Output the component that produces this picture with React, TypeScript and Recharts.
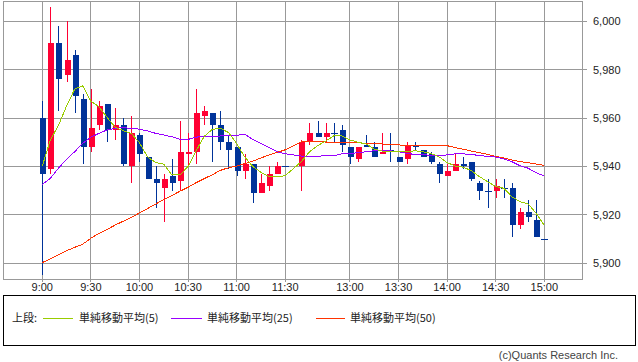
import React from 'react';
import { ComposedChart, Bar, Line, XAxis, YAxis, CartesianGrid, ReferenceArea } from 'recharts';

// x-axis tick labels and their slot positions (5-minute slots, lunch break compressed)
const timeLabels = ['9:00', '9:30', '10:00', '10:30', '11:00', '11:30', '13:00', '13:30', '14:00', '14:30', '15:00'];
const tickSlots = [0, 6, 12, 18, 24, 30, 38, 44, 50, 56, 62];
const yTicks = [5900, 5920, 5940, 5960, 5980, 6000];

// candle slots: morning 9:00-11:30 (0..30), afternoon 12:30-15:00 (32..62)
const slots = [
  0, 1, 2, 3, 4, 5, 6, 7, 8, 9, 10, 11, 12, 13, 14, 15, 16, 17, 18, 19, 20, 21, 22, 23, 24, 25, 26, 27, 28, 29, 30,
  32, 33, 34, 35, 36, 37, 38, 39, 40, 41, 42, 43, 44, 45, 46, 47, 48, 49, 50, 51, 52, 53, 54, 55, 56, 57, 58, 59, 60, 61, 62,
];

const opens = [
  5960, 5939, 5991, 5978, 5986, 5968, 5948, 5957, 5966, 5955, 5957, 5940, 5953, 5944, 5935, 5931, 5936, 5934, 5945, 5946, 5961, 5962, 5957, 5950, 5948, 5938, 5941, 5929, 5932, 5937, 5940,
  5940, 5950, 5954, 5952, 5954, 5955, 5948, 5943, 5949, 5948, 5945, 5947, 5944, 5943, 5949, 5947, 5945, 5941, 5936, 5938, 5941, 5942, 5933, 5930, 5930, 5931, 5931, 5916, 5921, 5918, 5910,
];
const highs = [
  5967, 6006, 5998, 6000, 5988, 5970, 5972, 5967, 5966, 5964, 5960, 5961, 5954, 5944, 5940, 5937, 5943, 5959, 5954, 5972, 5965, 5962, 5963, 5953, 5948, 5945, 5941, 5937, 5940, 5942, 5940,
  5951, 5958, 5959, 5958, 5958, 5957, 5948, 5948, 5953, 5950, 5954, 5954, 5944, 5950, 5950, 5947, 5946, 5942, 5941, 5945, 5944, 5942, 5934, 5935, 5935, 5935, 5933, 5923, 5926, 5926, 5910,
];
const lows = [
  5895, 5937, 5963, 5975, 5962, 5941, 5946, 5955, 5950, 5951, 5940, 5933, 5942, 5935, 5923, 5917, 5930, 5930, 5940, 5941, 5957, 5942, 5947, 5939, 5936, 5935, 5925, 5929, 5930, 5937, 5940,
  5930, 5949, 5952, 5950, 5950, 5946, 5941, 5942, 5948, 5944, 5945, 5942, 5942, 5941, 5947, 5944, 5941, 5933, 5936, 5938, 5939, 5934, 5926, 5923, 5927, 5927, 5911, 5914, 5917, 5911, 5910,
];
const closes = [
  5937, 5991, 5976, 5984, 5969, 5948, 5956, 5965, 5955, 5957, 5941, 5954, 5945, 5935, 5933, 5935, 5933, 5946, 5946, 5962, 5963, 5957, 5950, 5947, 5938, 5941, 5929, 5933, 5937, 5940, 5940,
  5950, 5954, 5952, 5954, 5954, 5949, 5944, 5948, 5948, 5944, 5946, 5947, 5942, 5949, 5948, 5944, 5942, 5937, 5938, 5941, 5940, 5935, 5930, 5930, 5932, 5931, 5916, 5921, 5919, 5911, 5910,
];

const sma5 = [
  5940.2, 5951, 5957, 5965, 5972, 5973.3, 5967, 5964.7, 5960.3, 5956.2, 5954.8, 5953.7, 5949.8, 5944, 5941.6, 5941, 5936.5, 5936.5, 5940, 5946.5, 5952.5, 5955.3, 5955.8, 5954, 5949.5, 5944, 5940, 5937.6, 5935.8, 5935.8, 5936.2,
  5942, 5946.1, 5948.6, 5950.5, 5952.7, 5952.7, 5951, 5950, 5949.3, 5947.2, 5946.4, 5946.1, 5946.1, 5946.1, 5946.5, 5946.1, 5945.4, 5944, 5941.6, 5940.2, 5939.7, 5938.3, 5935.8, 5933.7, 5931.7, 5931, 5927.5, 5925.5, 5924.5, 5920.7, 5915.7,
];
const sma25 = [
  5932.6, 5935.1, 5939.3, 5943, 5946.1, 5949.6, 5952.1, 5953.7, 5955.1, 5955.8, 5956, 5955.8, 5955.4, 5954.7, 5953.7, 5953, 5952.3, 5951.2, 5951.2, 5952.1, 5952.6, 5952.6, 5952.6, 5952.9, 5952.9, 5953.3, 5951.2, 5949.6, 5947.8, 5946.1, 5945.3,
  5944.3, 5944.2, 5944.2, 5944.5, 5944.5, 5945.2, 5945.4, 5945.7, 5946.1, 5946.5, 5946.5, 5946.5, 5946.1, 5945.4, 5945, 5944.8, 5944.7, 5944.5, 5944.8, 5945.2, 5945.2, 5945, 5944.5, 5944.2, 5943.9, 5943.1, 5942, 5940.3, 5939.3, 5937.4, 5936.1,
];
const sma50 = [
  5900.3, 5901.8, 5903.5, 5905.2, 5906.6, 5907.9, 5910.4, 5912.3, 5914, 5915.8, 5917.4, 5919, 5920.8, 5922.6, 5924.5, 5926.3, 5928, 5929.8, 5931.4, 5933.3, 5935, 5936.6, 5938.4, 5939.5, 5940.2, 5941.2, 5942.2, 5943.5, 5944.8, 5945.8, 5946.9,
  5950.2, 5950.3, 5950.3, 5950.1, 5949.9, 5949.9, 5949.9, 5949.8, 5949.6, 5949.4, 5949.3, 5949.1, 5948.9, 5948.8, 5948.5, 5948.6, 5948.7, 5948.7, 5948.6, 5947.8, 5947.1, 5946.4, 5945.7, 5945, 5944.2, 5943.5, 5942.7, 5942, 5941.6, 5941, 5940.5,
];

const legendNames = ['単純移動平均(5)', '単純移動平均(25)', '単純移動平均(50)'];

const UP = '#ff0033';
const DOWN = '#003399';
const C5 = '#99cc00';
const C25 = '#9900ff';
const C50 = '#ff3300';
const GRID = '#999999';

const data = slots.map((s, i) => ({
  slot: s,
  open: opens[i],
  high: highs[i],
  low: lows[i],
  close: closes[i],
  sma5: sma5[i],
  sma25: sma25[i],
  sma50: sma50[i],
}));

const X_MIN = -4.854;
const X_MAX = 66.656;
const Y_MIN = 5893.51;
const Y_MAX = 6008.39;

const Candle = (props: any) => {
  const { x, y, width, height, payload } = props;
  if (!payload || x == null || y == null) return null;
  const { open, close, high, low } = payload;
  const range = high - low;
  const yOf = (v: number) => (range > 0 ? y + ((high - v) / range) * height : y);
  const color = close > open ? UP : DOWN;
  const c = Math.round(x + width / 2);
  const top = yOf(Math.max(open, close));
  const bot = yOf(Math.min(open, close));
  return (
    <g shapeRendering="crispEdges">
      {range > 0 && (
        <line x1={c + 0.5} x2={c + 0.5} y1={yOf(high)} y2={yOf(low)} stroke={color} strokeWidth={1} />
      )}
      {open === close ? (
        <line x1={c - 3} x2={c + 4} y1={Math.round(top) + 0.5} y2={Math.round(top) + 0.5} stroke={color} strokeWidth={1} />
      ) : (
        <rect x={c - 2.5} y={top} width={6} height={Math.max(bot - top, 1)} fill={color} />
      )}
    </g>
  );
};

const fmtY = (v: number) => v.toLocaleString('en-US');
const fmtX = (v: number) => {
  const k = tickSlots.indexOf(v);
  return k >= 0 ? timeLabels[k] : '';
};

const axisFont = { fontFamily: '"Liberation Sans", Arial, sans-serif', fontSize: 11, fill: '#222' };
const cjk = '"Noto Sans CJK JP", "Noto Sans", sans-serif';

export default function App() {
  return (
    <div style={{ position: 'relative', width: 638, height: 362, background: '#fff', overflow: 'hidden' }}>
      <style>{'body{margin:0;background:#fff;} .crisp path, .crisp line, .crisp rect { shape-rendering: crispEdges; }'}</style>
      <div className="crisp" style={{ position: 'absolute', left: 0, top: 0 }}>
        <ComposedChart
          width={638}
          height={296}
          data={data}
          margin={{ top: 1, right: 0, left: 3, bottom: 0 }}
        >
          <CartesianGrid stroke={GRID} strokeWidth={1} />
          <XAxis
            dataKey="slot"
            type="number"
            domain={[X_MIN, X_MAX]}
            allowDataOverflow
            ticks={tickSlots}
            tickFormatter={fmtX}
            interval={0}
            axisLine={false}
            tickLine={{ stroke: GRID }}
            tickSize={3}
            tickMargin={1}
            height={17}
            tick={axisFont}
          />
          <YAxis
            orientation="right"
            type="number"
            domain={[Y_MIN, Y_MAX]}
            allowDataOverflow
            ticks={yTicks}
            tickFormatter={fmtY}
            axisLine={false}
            tickLine={{ stroke: GRID }}
            tickSize={5}
            tickMargin={6}
            width={56}
            tick={axisFont}
          />
          <ReferenceArea x1={X_MIN} x2={X_MAX} y1={Y_MIN} y2={Y_MAX} fill="none" stroke={GRID} strokeWidth={1} fillOpacity={0} />
          <Line dataKey="sma50" type="linear" stroke={C50} strokeWidth={1} dot={false} isAnimationActive={false} connectNulls />
          <Line dataKey="sma25" type="linear" stroke={C25} strokeWidth={1} dot={false} isAnimationActive={false} connectNulls />
          <Line dataKey="sma5" type="linear" stroke={C5} strokeWidth={1} dot={false} isAnimationActive={false} connectNulls />
          <Bar
            dataKey={(d: any) => [d.low, d.high]}
            barSize={6}
            shape={Candle}
            isAnimationActive={false}
          />
        </ComposedChart>
      </div>
      <svg width={638} height={362} style={{ position: 'absolute', left: 0, top: 0, pointerEvents: 'none' }}>
        <rect x={3.5} y={295.5} width={632} height={50} fill="none" stroke="#000" strokeWidth={1} />
        <text x={12} y={322} fontFamily={cjk} fontSize={11} fill="#222">上段:</text>
        <line x1={43} x2={73} y1={318.5} y2={318.5} stroke={C5} strokeWidth={1} />
        <text x={79} y={322} fontFamily={cjk} fontSize={11} fill="#222">{legendNames[0]}</text>
        <line x1={171} x2={202} y1={318.5} y2={318.5} stroke={C25} strokeWidth={1} />
        <text x={207} y={322} fontFamily={cjk} fontSize={11} fill="#222">{legendNames[1]}</text>
        <line x1={316} x2={345} y1={318.5} y2={318.5} stroke={C50} strokeWidth={1} />
        <text x={350} y={322} fontFamily={cjk} fontSize={11} fill="#222">{legendNames[2]}</text>
        <text x={618} y={359} textAnchor="end" fontFamily='"Liberation Sans", Arial, sans-serif' fontSize={11} fill="#444">
          (c)Quants Research Inc.
        </text>
      </svg>
    </div>
  );
}
